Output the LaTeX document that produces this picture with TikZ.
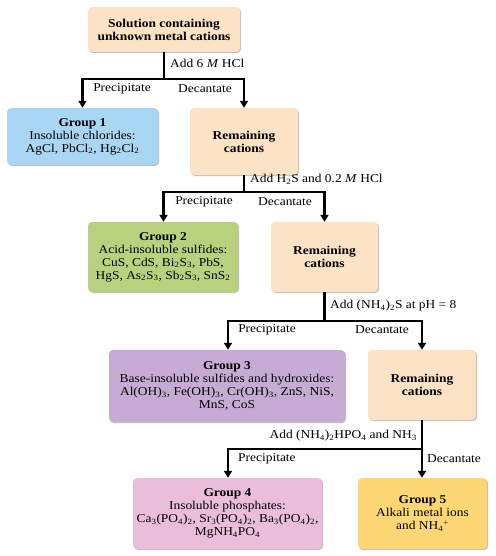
\documentclass[tikz,border=0pt]{standalone}
\usepackage{fontspec}
\setmainfont{Liberation Serif}[FakeStretch=1.12]
\usetikzlibrary{arrows.meta,shadows}
\definecolor{peach}{HTML}{FCE3C6}
\definecolor{gblue}{HTML}{A9D6F3}
\definecolor{ggreen}{HTML}{B7D17F}
\definecolor{gpurple}{HTML}{C6ABD5}
\definecolor{gpink}{HTML}{EABDDA}
\definecolor{gyellow}{HTML}{FDD775}
\newcommand{\sbs}[1]{\textsubscript{#1}}
\tikzset{
  box/.style={rectangle, rounded corners=4pt, align=center, inner sep=2pt,
    font=\fontsize{12}{13}\selectfont,
    drop shadow={shadow xshift=1pt, shadow yshift=-1pt, opacity=0.25, fill=black}},
  conn/.style={line width=2.6pt, draw=black},
  arr/.style={conn, -{Triangle[width=8pt,length=7pt]}},
  lbl/.style={font=\fontsize{12}{13}\selectfont, inner sep=0pt}
}
\begin{document}
\begin{tikzpicture}[x=1pt,y=-1pt]
\useasboundingbox (0,0) rectangle (495,556);
% boxes
\node[box, fill=peach, minimum width=152pt, minimum height=45pt] (top) at (164,29.5)
  {\textbf{Solution containing}\\\textbf{unknown metal cations}};
\node[box, fill=gblue, minimum width=151pt, minimum height=57pt] (g1) at (82.5,136.5)
  {\textbf{Group 1}\\Insoluble chlorides:\\AgCl, PbCl\sbs{2}, Hg\sbs{2}Cl\sbs{2}};
\node[box, fill=peach, minimum width=108pt, minimum height=67pt] (r1) at (244,141.5)
  {\textbf{Remaining}\\\textbf{cations}};
\node[box, fill=ggreen, minimum width=150pt, minimum height=70pt] (g2) at (163,257)
  {\textbf{Group 2}\\Acid-insoluble sulfides:\\CuS, CdS, Bi\sbs{2}S\sbs{3}, PbS,\\HgS, As\sbs{2}S\sbs{3}, Sb\sbs{2}S\sbs{3}, SnS\sbs{2}};
\node[box, fill=peach, minimum width=107pt, minimum height=70pt] (r2) at (324.5,257)
  {\textbf{Remaining}\\\textbf{cations}};
\node[box, fill=gpurple, minimum width=236pt, minimum height=72pt] (g3) at (227,386)
  {\textbf{Group 3}\\Base-insoluble sulfides and hydroxides:\\Al(OH)\sbs{3}, Fe(OH)\sbs{3}, Cr(OH)\sbs{3}, ZnS, NiS,\\MnS, CoS};
\node[box, fill=peach, minimum width=108pt, minimum height=70pt] (r3) at (422,385)
  {\textbf{Remaining}\\\textbf{cations}};
\node[box, fill=gpink, minimum width=189pt, minimum height=71pt] (g4) at (227.5,513.5)
  {\textbf{Group 4}\\Insoluble phosphates:\\Ca\sbs{3}(PO\sbs{4})\sbs{2}, Sr\sbs{3}(PO\sbs{4})\sbs{2}, Ba\sbs{3}(PO\sbs{4})\sbs{2},\\MgNH\sbs{4}PO\sbs{4}};
\node[box, fill=gyellow, minimum width=129pt, minimum height=71pt] (g5) at (422.5,513.5)
  {\textbf{Group 5}\\Alkali metal ions\\and NH\sbs{4}\textsuperscript{+}};
% connectors
\coordinate (b1) at (164,79);
\draw[conn] (top.south) -- (b1);
\draw[arr] (b1) -| (g1.north);
\draw[arr] (b1) -| (r1.north);
\coordinate (b2) at (244,192);
\draw[conn] (r1.south) -- (b2);
\draw[arr] (b2) -| ([xshift=0.5pt]g2.north);
\draw[arr] (b2) -| (r2.north);
\coordinate (b3) at (324.5,321);
\draw[conn] (r2.south) -- (b3);
\draw[arr] (b3) -| ([xshift=1pt]g3.north);
\draw[arr] (b3) -| (r3.north);
\coordinate (b4) at (422,449);
\draw[arr] (r3.south) -- ([xshift=-0.5pt]g5.north);
\draw[arr] (b4) -| ([xshift=0.5pt]g4.north);
% labels
\node[lbl, anchor=west] (l1) at (170,63) {Add 6 \textit{M} HCl};
\node[lbl] (p1) at (122,89) {Precipitate};
\node[lbl] (d1) at (205,89) {Decantate};
\node[lbl, anchor=west] (l2) at (250,179) {Add H\sbs{2}S and 0.2 \textit{M} HCl};
\node[lbl] (p2) at (204,202) {Precipitate};
\node[lbl] (d2) at (285,202) {Decantate};
\node[lbl, anchor=west] (l3) at (330,306) {Add (NH\sbs{4})\sbs{2}S at pH = 8};
\node[lbl] (p3) at (267,330) {Precipitate};
\node[lbl] (d3) at (382,330) {Decantate};
\node[lbl, anchor=east] (l4) at (417,436) {Add (NH\sbs{4})\sbs{2}HPO\sbs{4} and NH\sbs{3}};
\node[lbl, anchor=west] (p4) at (238,459) {Precipitate};
\node[lbl, anchor=west] (d4) at (427,459) {Decantate};
\end{tikzpicture}
\end{document}
